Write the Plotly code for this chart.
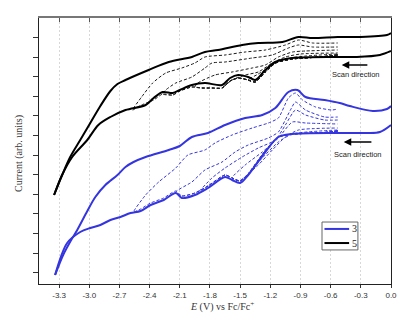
import plotly.graph_objects as go

# ---------------- data (E in V vs Fc/Fc+, current in arb. units) ----------------
blk_up_E = [-3.35,-3.27,-3.19,-3.09,-2.99,-2.89,-2.79,-2.72,-2.64,-2.41,-2.21,-1.98,-1.85,-1.72,-1.48,-1.32,-1.08,-0.92,-0.78,-0.53,-0.31,-0.04,0.0]
blk_up_I = [105,125,143,160,177,194,209,216,220,230,238,243,248,250,255,257,258,263,262,263,263,265,267]

blk_lo_E = [0.0,-0.11,-0.34,-0.53,-0.98,-1.15,-1.25,-1.35,-1.42,-1.52,-1.60,-1.68,-1.85,-1.98,-2.10,-2.17,-2.27,-2.36,-2.44,-2.64,-2.79,-2.91,-3.02,-3.17,-3.27,-3.35]
blk_lo_I = [249,245,243,243,242,238,230,220,223,225,222,215,217,215,210,207,208,202,195,190,183,175,160,143,125,105]

blk_fw_E = [-0.53,-0.71,-0.98,-1.15,-1.25,-1.35,-1.42,-1.52,-1.60,-1.68,-1.78,-1.88,-1.98,-2.10,-2.17,-2.27,-2.36,-2.48,-2.57]
blk_fw_I = [245,243,241,237,228,218,220,222,219,212,212,212,213,209,205,206,200,195,190]

blk_ret_E = [
    [-2.57,-2.48,-2.37,-2.24,-2.08,-1.95,-1.85,-1.65,-1.45,-1.25,-1.05,-0.92,-0.78,-0.53],
    [-2.27,-2.24,-2.14,-1.98,-1.85,-1.78,-1.65,-1.38,-1.18,-1.02,-0.92,-0.78,-0.53],
    [-1.95,-1.92,-1.75,-1.58,-1.38,-1.25,-1.12,-0.98,-0.85,-0.53],
    [-1.68,-1.58,-1.45,-1.32,-1.18,-1.05,-0.90,-0.53],
    [-1.42,-1.32,-1.22,-1.12,-1.00,-0.85,-0.53],
]
blk_ret_I = [
    [190,203,217,227,232,237,243,245,248,250,255,260,257,257],
    [206,210,217,223,232,237,238,242,245,252,255,253,253],
    [213,217,225,228,232,235,243,248,249,250],
    [212,220,225,228,237,243,246,247],
    [220,226,232,238,242,244,246],
]

blu_up_E = [-3.34,-3.26,-3.18,-3.12,-3.03,-2.94,-2.84,-2.72,-2.64,-2.56,-2.44,-2.21,-2.10,-1.98,-1.82,-1.65,-1.45,-1.28,-1.15,-1.02,-0.93,-0.85,-0.66,-0.51,-0.41,-0.18,-0.04,0.0]
blu_up_I = [25,45,60,70,87,103,115,125,133,138,143,150,154,163,167,175,182,185,192,208,210,203,200,197,194,189,191,194]

blu_lo_E = [0.0,-0.11,-0.24,-0.53,-0.98,-1.12,-1.25,-1.42,-1.50,-1.58,-1.65,-1.82,-1.95,-2.08,-2.14,-2.26,-2.39,-2.49,-2.59,-2.69,-2.79,-2.89,-2.99,-3.09,-3.22,-3.34]
blu_lo_I = [175,168,167,167,166,163,148,125,117,120,123,112,105,102,107,100,95,89,87,83,80,75,72,68,57,25]

blu_fw_E = [-0.53,-0.71,-0.98,-1.12,-1.25,-1.42,-1.50,-1.58,-1.65,-1.82,-1.95,-2.08,-2.14,-2.26,-2.39,-2.49,-2.56]
blu_fw_I = [169,167,166,163,149,126,119,122,125,114,107,104,109,102,97,91,88]

blu_ret_E = [
    [-2.56,-2.44,-2.31,-2.14,-2.02,-1.85,-1.75,-1.58,-1.38,-1.22,-1.12,-1.02,-0.95,-0.88,-0.75,-0.59,-0.53],
    [-2.14,-1.98,-1.85,-1.68,-1.55,-1.42,-1.22,-1.12,-1.00,-0.95,-0.85,-0.66,-0.53],
    [-1.92,-1.78,-1.65,-1.48,-1.32,-1.15,-1.05,-0.95,-0.85,-0.66,-0.53],
    [-1.58,-1.45,-1.28,-1.12,-0.98,-0.85,-0.53],
    [-1.50,-1.32,-1.18,-1.05,-0.92,-0.53],
    [-1.42,-1.28,-1.12,-0.98,-0.53],
]
blu_ret_I = [
    [88,105,118,132,145,150,157,165,172,177,182,202,207,200,193,190,191],
    [108,118,130,138,148,155,162,168,190,198,190,183,183],
    [107,122,132,143,152,160,175,190,185,180,180],
    [122,135,148,162,178,177,176],
    [119,135,150,163,170,172],
    [126,142,158,166,170],
]

x_ticks = [-3.3,-3.0,-2.7,-2.4,-2.1,-1.8,-1.5,-1.2,-0.9,-0.6,-0.3,0.0]
x_labels = ["-3.3","-3.0","-2.7","-2.4","-2.1","-1.8","-1.5","-1.2","-0.9","-0.6","-0.3","0.0"]
legend_names = ["3", "5"]

# ---------------- styling ----------------
BLUE = "#3535e0"
BLACK = "#000000"
DGRAY = "#1a1a1a"
SMOOTH = 0.9
fig = go.Figure()


def add_cycles(fw_E, fw_I, ret_E, ret_I, color):
    for rE, rI in zip(ret_E, ret_I):
        es = rE[0]
        fE = [e for e in fw_E if e > es + 1e-9]
        fI = [i for e, i in zip(fw_E, fw_I) if e > es + 1e-9]
        fig.add_trace(go.Scatter(x=fE + rE, y=fI + rI, mode="lines",
                                 line=dict(color=color, width=1, dash="3px,2px", shape="spline", smoothing=0.6),
                                 showlegend=False, hoverinfo="skip"))


add_cycles(blk_fw_E, blk_fw_I, blk_ret_E, blk_ret_I, DGRAY)
add_cycles(blu_fw_E, blu_fw_I, blu_ret_E, blu_ret_I, BLUE)

fig.add_trace(go.Scatter(x=blk_lo_E, y=blk_lo_I, mode="lines", line=dict(color=BLACK, width=2, shape="spline", smoothing=SMOOTH), showlegend=False))
fig.add_trace(go.Scatter(x=blu_lo_E, y=blu_lo_I, mode="lines", line=dict(color=BLUE, width=2, shape="spline", smoothing=SMOOTH), showlegend=False))
fig.add_trace(go.Scatter(x=blu_up_E, y=blu_up_I, mode="lines", name=legend_names[0], showlegend=False,
                         line=dict(color=BLUE, width=2, shape="spline", smoothing=SMOOTH)))
fig.add_trace(go.Scatter(x=blk_up_E, y=blk_up_I, mode="lines", name=legend_names[1], showlegend=False,
                         line=dict(color=BLACK, width=2, shape="spline", smoothing=SMOOTH)))

# dummy trace for top axis with inward ticks
fig.add_trace(go.Scatter(x=[None], y=[None], xaxis="x2", showlegend=False))

y_tick_pos = [27.3 + 19.6 * k for k in range(13)]

fig.update_layout(
    width=401, height=324,
    margin=dict(l=39, r=10, t=18, b=40, autoexpand=False),
    paper_bgcolor="white", plot_bgcolor="white",
    showlegend=False,
    xaxis=dict(range=[-3.5, 0.0], tickvals=x_ticks, ticktext=x_labels, ticks="outside", ticklen=3,
               tickcolor="#333", showgrid=True, gridcolor="#d8d8d8", griddash="2px,2px", gridwidth=1,
               showline=True, linecolor="#222", linewidth=1.3, zeroline=False, automargin=False,
               tickfont=dict(family="Arial, Liberation Sans", size=8, color="#333")),
    xaxis2=dict(range=[-3.5, 0.0], overlaying="x", side="top", tickvals=x_ticks, ticks="inside",
                ticklen=4, tickcolor="#555", showticklabels=False, showgrid=False, automargin=False,
                showline=True, linecolor="#777", linewidth=2, zeroline=False),
    yaxis=dict(range=[16, 282], tickvals=y_tick_pos, ticks="outside", ticklen=5, tickcolor="#333",
               showticklabels=False, showgrid=False, showline=True, linecolor="#222", linewidth=1.3,
               mirror=True, zeroline=False, automargin=False),
)

# legend box drawn in paper coordinates
fig.add_shape(type="rect", xref="paper", yref="paper", x0=0.804, x1=0.906, y0=0.128, y1=0.233,
              line=dict(color="#666", width=1), fillcolor="white", layer="above")
leg_colors = [BLUE, BLACK]
leg_y = [0.207, 0.154]
for name, col, yy in zip(legend_names, leg_colors, leg_y):
    fig.add_shape(type="line", xref="paper", yref="paper", x0=0.811, x1=0.881, y0=yy, y1=yy,
                  line=dict(color=col, width=2), layer="above")
    fig.add_annotation(x=0.884, y=yy, xref="paper", yref="paper", text=name, showarrow=False,
                       xanchor="left", yanchor="middle",
                       font=dict(family="Liberation Serif, Times New Roman", size=10, color="#222"))

ann_font = dict(family="Arial, Liberation Sans", size=7.5, color="#222")
fig.add_annotation(x=-0.49, y=235, ax=-0.22, ay=235, axref="x", ayref="y", xref="x", yref="y",
                   showarrow=True, arrowhead=2, arrowsize=1, arrowwidth=1.5, arrowcolor="#000", text="")
fig.add_annotation(x=-0.35, y=226, xref="x", yref="y", text="Scan direction", showarrow=False, font=ann_font)
fig.add_annotation(x=-0.47, y=158, ax=-0.18, ay=158, axref="x", ayref="y", xref="x", yref="y",
                   showarrow=True, arrowhead=2, arrowsize=1, arrowwidth=1.5, arrowcolor="#000", text="")
fig.add_annotation(x=-0.33, y=146, xref="x", yref="y", text="Scan direction", showarrow=False, font=ann_font)

fig.add_annotation(x=0.519, y=-0.086, xref="paper", yref="paper", showarrow=False,
                   xanchor="center", yanchor="middle",
                   text="<i>E</i> (V) vs Fc/Fc<sup>+</sup>",
                   font=dict(family="Liberation Serif, Times New Roman", size=10, color="#333"))
fig.add_annotation(x=-0.059, y=0.49, xref="paper", yref="paper", showarrow=False, textangle=-90,
                   xanchor="center", yanchor="middle",
                   text="Current (arb. units)",
                   font=dict(family="Liberation Serif, Times New Roman", size=10, color="#333"))

fig.write_html("out.html", config={"displayModeBar": False},
               post_script="document.body.style.margin='0';document.body.style.padding='0';")
